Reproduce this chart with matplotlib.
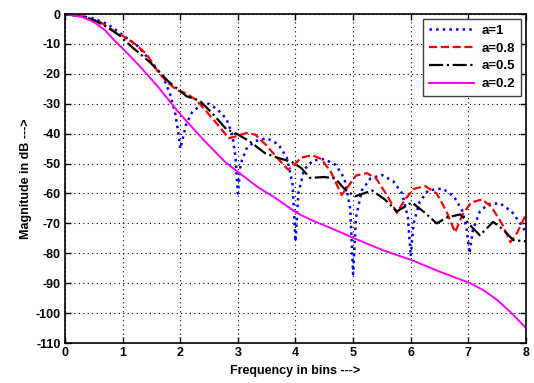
import matplotlib
matplotlib.use("Agg")
import matplotlib.pyplot as plt

# curve samples (frequency in bins, magnitude in dB)
f_a1 = [0, 0.25, 0.5, 0.75, 1.0, 1.25, 1.5, 1.7, 1.82, 1.91, 1.97, 2.0, 2.04, 2.1, 2.2,
        2.35, 2.5, 2.65, 2.8, 2.9, 2.96, 3.0, 3.05, 3.15, 3.3, 3.5, 3.7, 3.85, 3.95, 4.0,
        4.05, 4.15, 4.3, 4.5, 4.7, 4.85, 4.95, 5.0, 5.05, 5.15, 5.3, 5.5, 5.7, 5.85, 5.95,
        6.0, 6.05, 6.15, 6.3, 6.55, 6.75, 6.9, 6.97, 7.02, 7.08, 7.2, 7.35, 7.55, 7.75,
        7.9, 8.0]
m_a1 = [0, -0.5, -1.5, -3.5, -7.0, -10.5, -16, -21, -26.5, -33, -40, -45, -42, -37, -33,
        -30.5, -30, -32, -35, -40, -48, -60, -50, -45, -42.5, -41.5, -43.5, -48, -57, -76,
        -60, -52, -49, -48.5, -50.5, -55, -65, -87, -68, -59, -55, -53.8, -56, -60, -68,
        -81, -70, -63, -59, -58.3, -61, -66, -72, -80, -72, -66, -63.5, -63.3, -66,
        -70, -73]

f_a08 = [0, 0.34, 0.6, 0.83, 1.07, 1.24, 1.42, 1.62, 1.77, 1.94, 2.1, 2.28, 2.45, 2.65,
         2.84, 2.95, 3.15, 3.3, 3.5, 3.7, 3.87, 3.95, 4.1, 4.29, 4.45, 4.62, 4.8, 4.9,
         5.05, 5.24, 5.4, 5.6, 5.76, 5.9, 6.05, 6.25, 6.45, 6.62, 6.77, 6.9, 7.05, 7.24,
         7.4, 7.58, 7.73, 7.85, 8.0]
m_a08 = [0, -0.9, -2.6, -5.4, -8.1, -10.4, -13.5, -19.5, -22.7, -25.4, -26.5, -28.8,
         -32.5, -37, -41.5, -41, -39.8, -40.3, -44, -48.5, -52, -51, -48, -47.2, -48.5,
         -53, -60.5, -58, -54, -53.2, -55, -61, -66.5, -62, -58.5, -57.5, -60, -66, -73,
         -67, -63, -62, -64.5, -70, -76.3, -73, -67]

f_a05 = [0, 0.35, 0.55, 0.72, 0.95, 1.16, 1.48, 1.79, 2.11, 2.34, 2.57, 2.8, 3.0, 3.2,
         3.47, 3.68, 3.94, 4.1, 4.25, 4.5, 4.69, 4.85, 5.03, 5.33, 5.55, 5.76, 6.02, 6.25,
         6.45, 6.63, 6.86, 7.05, 7.2, 7.43, 7.6, 7.78, 8.0]
m_a05 = [0, -1, -2.5, -4.3, -7.2, -11, -16.2, -22.5, -27.5, -29, -33.5, -38.5, -40.3,
         -42.5, -46.5, -48, -49.5, -51.5, -54.8, -54.5, -55, -58.5, -61, -59, -62, -66,
         -63, -66.5, -70, -68, -67, -71, -74, -69.5, -72, -75.6, -76]

f_a02 = [0, 0.3, 0.5, 0.7, 0.85, 1.0, 1.3, 1.6, 2.0, 2.4, 2.78, 3.0, 3.35, 3.65, 4.03,
         4.29, 4.69, 5.02, 5.52, 6.02, 6.51, 7.03, 7.26, 7.5, 7.75, 8.0]
m_a02 = [0, -1, -2.7, -5.5, -8.7, -11.5, -17.5, -24, -33.5, -42, -49.5, -52.8, -57.9,
         -61.5, -66.6, -69, -72.2, -75, -79, -82.3, -86.2, -90, -92.3, -95.6, -100, -105]

x_ticks = list(range(0, 9))
y_ticks = list(range(-110, 1, 10))

plt.rcParams["font.family"] = ["Liberation Sans", "DejaVu Sans"]
plt.rcParams["font.weight"] = "bold"
plt.rcParams["axes.unicode_minus"] = False

fig = plt.figure(figsize=(5.34, 3.83), dpi=100)
ax = fig.add_axes([0.1217, 0.1044, 0.8633, 0.859])

ax.plot(f_a1, m_a1, color="#0000ff", linestyle=":", linewidth=1.8, label="a=1")
ax.plot(f_a08, m_a08, color="#ff0000", linestyle="--", linewidth=1.6, label="a=0.8")
ax.plot(f_a05, m_a05, color="black", linestyle="-.", linewidth=1.6, label="a=0.5")
ax.plot(f_a02, m_a02, color="#ff00ff", linestyle="-", linewidth=1.4, label="a=0.2")

ax.set_xlim(0, 8)
ax.set_ylim(-110, 0)
ax.set_xticks(x_ticks)
ax.set_yticks(y_ticks)
ax.tick_params(direction="in", top=True, right=True, labelsize=9, length=4, width=1, pad=3)
for lbl in ax.get_xticklabels() + ax.get_yticklabels():
    lbl.set_fontweight("bold")
ax.grid(True, color="black", linestyle=(0, (1, 3)), linewidth=0.8)
for sp in ax.spines.values():
    sp.set_linewidth(1.2)

ax.set_xlabel("Frequency in bins --->", fontsize=9, fontweight="bold", labelpad=4)
ax.set_ylabel("Magnitude in dB --->", fontsize=9, fontweight="bold", labelpad=3)

leg = ax.legend(loc="upper right", fontsize=9.5, fancybox=False, framealpha=1,
                edgecolor="#404040", borderaxespad=0.35, handlelength=3.4,
                labelspacing=0.42, borderpad=0.45, handletextpad=0.6)
leg.get_frame().set_linewidth(1.0)
for t in leg.get_texts():
    t.set_fontweight("bold")

fig.savefig("out.png", dpi=100)
